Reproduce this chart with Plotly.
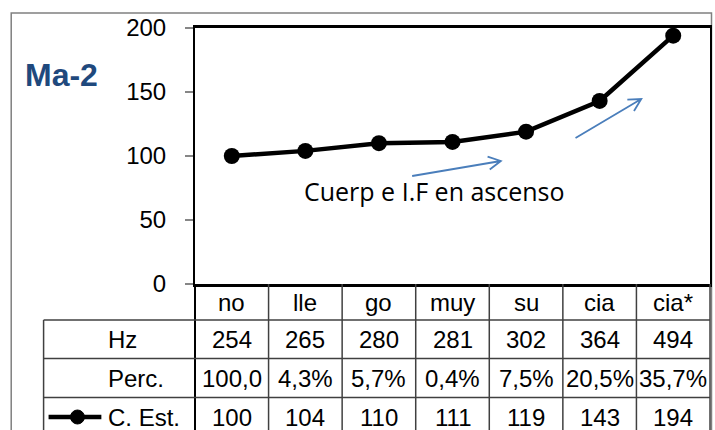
import math
import plotly.graph_objects as go

categories = ["no", "lle", "go", "muy", "su", "cia", "cia*"]
hz = [254, 265, 280, 281, 302, 364, 494]
perc = ["100,0", "4,3%", "5,7%", "0,4%", "7,5%", "20,5%", "35,7%"]
c_est = [100, 104, 110, 111, 119, 143, 194]
row_labels = ["Hz", "Perc.", "C. Est."]
y_ticks = [0, 50, 100, 150, 200]
title_text = "Ma-2"
note_text = "Cuerp e I.F en ascenso"

W, H = 715, 430
L, R, T, B = 195, 3, 28, 146
PW, PH = W - L - R, H - T - B
FONT = "Liberation Sans, Arial, sans-serif"
BLUE = "#4a7ebb"


def px(xp):
    return (xp - L) / PW


def py(yp):
    return (H - B - yp) / PH


fig = go.Figure()
fig.add_trace(go.Scatter(
    x=categories, y=c_est, mode="lines+markers", name=row_labels[2],
    line=dict(color="black", width=4.5),
    marker=dict(color="black", size=16),
    cliponaxis=False, showlegend=False,
))

shapes = []
annotations = []

# outer chart border
shapes.append(dict(type="rect", xref="paper", yref="paper",
                   x0=px(10.5), x1=px(713.5), y0=py(13), y1=py(445),
                   line=dict(color="#808080", width=1.5), layer="below"))

# table grid
n = len(categories)
row_edges = [284, 320, 358.5, 397.5, 445]
grid = dict(color="#404040", width=1.5)
for i in range(1, n + 1):
    xb = L + PW * i / n
    shapes.append(dict(type="line", xref="paper", yref="paper",
                       x0=px(xb), x1=px(xb), y0=py(284), y1=py(445), line=grid))
shapes.append(dict(type="line", xref="paper", yref="paper",
                   x0=px(L), x1=px(L), y0=py(284), y1=py(445), line=dict(color="black", width=2)))
shapes.append(dict(type="line", xref="paper", yref="paper",
                   x0=px(43), x1=px(43), y0=py(320), y1=py(445), line=grid))
for ye in row_edges[1:4]:
    shapes.append(dict(type="line", xref="paper", yref="paper",
                       x0=px(43), x1=px(L + PW), y0=py(ye), y1=py(ye), line=grid))

# legend key in table
shapes.append(dict(type="line", xref="paper", yref="paper",
                   x0=px(48), x1=px(101), y0=py(417), y1=py(417),
                   line=dict(color="black", width=4.5)))
shapes.append(dict(type="circle", xref="paper", yref="paper",
                   x0=px(70), x1=px(84), y0=py(410), y1=py(424),
                   fillcolor="black", line=dict(color="black", width=1)))


# arrows (open V heads)
def arrow(x0, y0, x1, y1, head=14, ang=28):
    a = math.atan2(y1 - y0, x1 - x0)
    pts = []
    for s in (1, -1):
        b = a + math.pi + s * math.radians(ang)
        pts.append((x1 + head * math.cos(b), y1 + head * math.sin(b)))
    path = (f"M {px(x0)},{py(y0)} L {px(x1)},{py(y1)} "
            f"M {px(pts[0][0])},{py(pts[0][1])} L {px(x1)},{py(y1)} L {px(pts[1][0])},{py(pts[1][1])}")
    shapes.append(dict(type="path", xref="paper", yref="paper", path=path,
                       line=dict(color=BLUE, width=1.8)))


arrow(413, 176, 502, 161)
arrow(577, 138, 643, 99)

# table texts
tf = dict(family=FONT, size=24, color="black")
for i, c in enumerate(categories):
    annotations.append(dict(x=i, y=py(302), xref="x", yref="paper", text=c,
                            showarrow=False, font=tf, xanchor="center", yanchor="middle"))
rows = [hz, perc, c_est]
row_y = [339.5, 378.5, 417]
for r, vals in enumerate(rows):
    for i, v in enumerate(vals):
        annotations.append(dict(x=i, y=py(row_y[r]), xref="x", yref="paper", text=str(v),
                                showarrow=False, font=tf, xanchor="center", yanchor="middle"))
    annotations.append(dict(x=px(106), y=py(row_y[r]), xref="paper", yref="paper",
                            text=row_labels[r], showarrow=False, font=tf,
                            xanchor="left", yanchor="middle"))

annotations.append(dict(x=px(22), y=py(75), xref="paper", yref="paper", text=f"<b>{title_text}</b>",
                        showarrow=False, xanchor="left", yanchor="middle",
                        font=dict(family=FONT, size=32, color="#1f497d")))
annotations.append(dict(x=px(302), y=py(191), xref="paper", yref="paper", text=note_text,
                        showarrow=False, xanchor="left", yanchor="middle",
                        font=dict(family="Open Sans, Lato, sans-serif", size=25, color="black")))

fig.update_layout(
    width=W, height=H,
    margin=dict(l=L, r=R, t=T, b=B, pad=0),
    paper_bgcolor="white", plot_bgcolor="white",
    shapes=shapes, annotations=annotations,
    xaxis=dict(type="category", range=[-0.5, n - 0.5], showticklabels=False, ticks="",
               showgrid=False, zeroline=False, showline=True, linecolor="black",
               linewidth=2.5, mirror=True, fixedrange=True),
    yaxis=dict(range=[0, 200], tickvals=y_ticks, ticks="outside", ticklen=8,
               tickcolor="#868686", tickwidth=1.5, ticklabelstandoff=14,
               tickfont=dict(family=FONT, size=24, color="black"),
               showgrid=False, zeroline=False, showline=True, linecolor="black",
               linewidth=2, mirror=True, fixedrange=True),
)

fig.write_html("out.html", config={"displayModeBar": False},
               post_script="document.body.style.margin='0';document.body.style.overflow='hidden';")
